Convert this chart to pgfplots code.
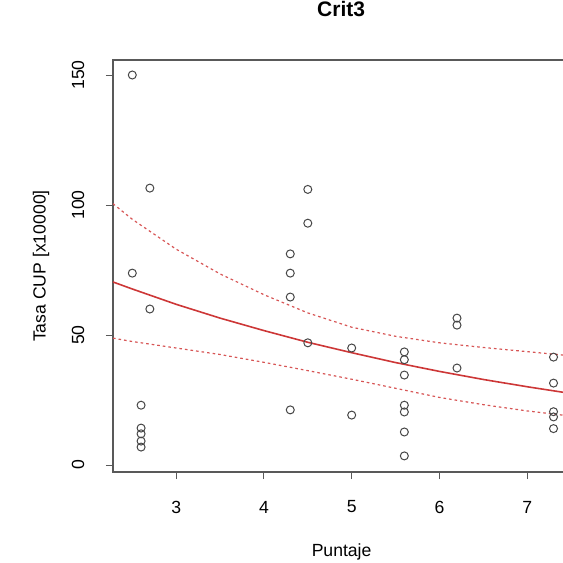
\documentclass[border=0pt]{standalone}
\usepackage{pgfplots}
\pgfplotsset{compat=1.18}
\usepackage{fontspec}
\setmainfont{Liberation Sans}
\definecolor{fitred}{RGB}{205,55,55}
\definecolor{cired}{RGB}{215,85,85}
\definecolor{ptgray}{RGB}{70,70,70}
\begin{document}
\begin{tikzpicture}
\begin{axis}[
  at={(0pt,0pt)}, anchor=south west,
  scale only axis,
  width=228.6pt, height=206pt,
  xmin=2.28, xmax=7.49,
  ymin=-2.69, ymax=155.77,
  xtick={3,4,5,6,7}, ytick={0,50,100,150},
  tick pos=left, tick align=outside,
  major tick length=3.5pt,
  axis line style={black!65, line width=0.6pt},
  every tick/.style={black!65, line width=0.5pt},
  font=\fontsize{8.8}{10}\selectfont,
  /pgf/number format/assume math mode=true,
  xticklabel style={anchor=center, yshift=-14pt},
  yticklabel style={rotate=90, anchor=center, yshift=14pt},
  title={\bfseries Crit3},
  title style={font=\fontsize{10.5}{12}\selectfont, at={(axis description cs:0.499,1)}, anchor=center, yshift=19.5pt},
  xlabel={Puntaje},
  ylabel={Tasa CUP [x10000]},
  every axis x label/.style={at={(axis description cs:0.5,0)}, anchor=center, yshift=-40pt},
  every axis y label/.style={at={(axis description cs:0,0.5)}, anchor=center, rotate=90, yshift=36pt},
  clip=true,
]
\addplot[cired, line width=0.6pt, dash pattern=on 1.3pt off 1.5pt] coordinates {
(2.28,100.5) (2.5,94.5) (3,83) (3.5,73.5) (4,65.5) (4.5,58.5) (5,53) (5.5,49.5) (6,47) (6.5,45.2) (7,43.6) (7.5,42)};
\addplot[cired, line width=0.6pt, dash pattern=on 1.3pt off 1.5pt] coordinates {
(2.28,48.8) (2.5,47.5) (3,45) (3.5,42.5) (4,39.5) (4.5,36.3) (5,33) (5.5,29.5) (6,26) (6.5,23.2) (7,20.8) (7.5,18.8)};
\addplot[fitred, line width=0.8pt] coordinates {
(2.28,70.4) (2.5,67.7) (3,61.8) (3.5,56.5) (4,51.7) (4.5,47.2) (5,43.2) (5.5,39.4) (6,36.0) (6.5,32.9) (7,30.1) (7.5,27.5)};
\addplot[only marks, mark=o, mark size=2pt, mark options={draw=ptgray, line width=0.5pt}] coordinates {
(2.5,150) (2.5,73.8) (2.7,106.5) (2.7,60) (2.6,23) (2.6,14.2) (2.6,12) (2.6,9.2) (2.6,6.9)
(4.3,81.2) (4.3,73.8) (4.3,64.6) (4.3,21.2) (4.5,106) (4.5,93) (4.5,47)
(5,45) (5,19.2)
(5.6,43.5) (5.6,40.5) (5.6,34.6) (5.6,23) (5.6,20.4) (5.6,12.7) (5.6,3.5)
(6.2,56.5) (6.2,53.8) (6.2,37.3)
(7.3,41.5) (7.3,31.5) (7.3,20.5) (7.3,18.5) (7.3,14)};
\end{axis}
\pgfresetboundingbox
\useasboundingbox (-56.5pt,-45.5pt) rectangle (225pt,236pt);
\end{tikzpicture}
\end{document}
